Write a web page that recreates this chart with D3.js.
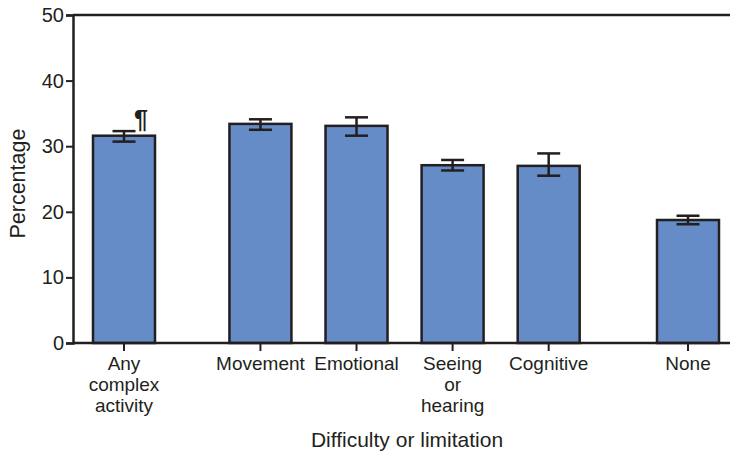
<!DOCTYPE html>
<html>
<head>
<meta charset="utf-8">
<script src="https://cdn.jsdelivr.net/npm/d3@7"></script>
<style>
  body { margin: 0; background: #fff; }
  text { font-family: "Liberation Sans", Arial, sans-serif; fill: #231f20; }
</style>
</head>
<body>
<svg id="chart" width="730" height="454"></svg>
<script>
// data
var categories = [["Any", "complex", "activity"], ["Movement"], ["Emotional"], ["Seeing", "or", "hearing"], ["Cognitive"], ["None"]];
var values = [31.6, 33.4, 33.1, 27.1, 27.0, 18.75];
var lower = [30.7, 32.5, 31.6, 26.3, 25.5, 18.1];
var upper = [32.3, 34.1, 34.4, 27.9, 28.9, 19.4];
var notes = ["¶", "", "", "", "", ""];
var yTicks = [0, 10, 20, 30, 40, 50];

var ink = "#231f20";
var svg = d3.select("#chart");

// grouped slots: gap after the first bar and before the last one
var slot = categories.map(function(c, i) {
  return i + (i >= 1 ? 0.42 : 0) + (i >= 5 ? 0.45 : 0);
});

var x = d3.scaleLinear().domain([0, slot[5]]).range([124, 688]);
var y = d3.scaleLinear().domain([0, 50]).range([343, 15]);
var barW = 62;

// top frame line
svg.append("line")
  .attr("x1", 73).attr("x2", 730)
  .attr("y1", y(50)).attr("y2", y(50))
  .attr("stroke", ink).attr("stroke-width", 2.5);

// bars
svg.selectAll("rect.bar")
  .data(values)
  .enter().append("rect")
  .attr("class", "bar")
  .attr("x", (d, i) => x(slot[i]) - barW / 2)
  .attr("y", d => y(d))
  .attr("width", barW)
  .attr("height", d => y(0) - y(d))
  .attr("fill", "#658cc6")
  .attr("stroke", ink)
  .attr("stroke-width", 2.5);

// error bars
var eb = svg.selectAll("g.err")
  .data(values)
  .enter().append("g")
  .attr("class", "err")
  .attr("stroke", ink)
  .attr("stroke-width", 2.5);

eb.append("line")
  .attr("x1", (d, i) => x(slot[i])).attr("x2", (d, i) => x(slot[i]))
  .attr("y1", (d, i) => y(lower[i])).attr("y2", (d, i) => y(upper[i]));
eb.append("line")
  .attr("x1", (d, i) => x(slot[i]) - 11.5).attr("x2", (d, i) => x(slot[i]) + 11.5)
  .attr("y1", (d, i) => y(upper[i])).attr("y2", (d, i) => y(upper[i]));
eb.append("line")
  .attr("x1", (d, i) => x(slot[i]) - 11.5).attr("x2", (d, i) => x(slot[i]) + 11.5)
  .attr("y1", (d, i) => y(lower[i])).attr("y2", (d, i) => y(lower[i]));

// footnote marks
svg.selectAll("text.note")
  .data(notes)
  .enter().append("text")
  .attr("class", "note")
  .attr("x", (d, i) => x(slot[i]) + 10)
  .attr("y", (d, i) => y(upper[i]) - 3)
  .attr("font-size", 25)
  .attr("font-weight", "bold")
  .text(d => d);

// y axis
var yAxis = svg.append("g")
  .attr("transform", "translate(73,0)")
  .call(d3.axisLeft(y).tickValues(yTicks).tickSize(7).tickPadding(2));
yAxis.select(".domain").attr("stroke", ink).attr("stroke-width", 2.5);
yAxis.selectAll(".tick line").attr("stroke", ink).attr("stroke-width", 2);
yAxis.selectAll(".tick text").attr("font-size", 20).attr("font-family", "Liberation Sans, Arial, sans-serif").attr("fill", ink);

// x axis line
svg.append("line")
  .attr("x1", 73).attr("x2", 730)
  .attr("y1", y(0)).attr("y2", y(0))
  .attr("stroke", ink).attr("stroke-width", 2.5);

// x ticks and labels
var xt = svg.selectAll("g.xtick")
  .data(categories)
  .enter().append("g")
  .attr("class", "xtick")
  .attr("transform", (d, i) => "translate(" + x(slot[i]) + "," + y(0) + ")");
xt.append("line")
  .attr("y1", 0).attr("y2", 8)
  .attr("stroke", ink).attr("stroke-width", 2);
xt.append("text")
  .attr("text-anchor", "middle")
  .attr("font-size", 19)
  .selectAll("tspan")
  .data(d => d)
  .enter().append("tspan")
  .attr("x", 0)
  .attr("y", (d, j) => 27 + j * 20.8)
  .text(d => d);

// axis titles
svg.append("text")
  .attr("x", 407).attr("y", 447)
  .attr("text-anchor", "middle")
  .attr("font-size", 21)
  .text("Difficulty or limitation");

svg.append("text")
  .attr("transform", "translate(25," + y(24.3) + ") rotate(-90)")
  .attr("text-anchor", "middle")
  .attr("font-size", 21.5)
  .text("Percentage");
</script>
</body>
</html>
